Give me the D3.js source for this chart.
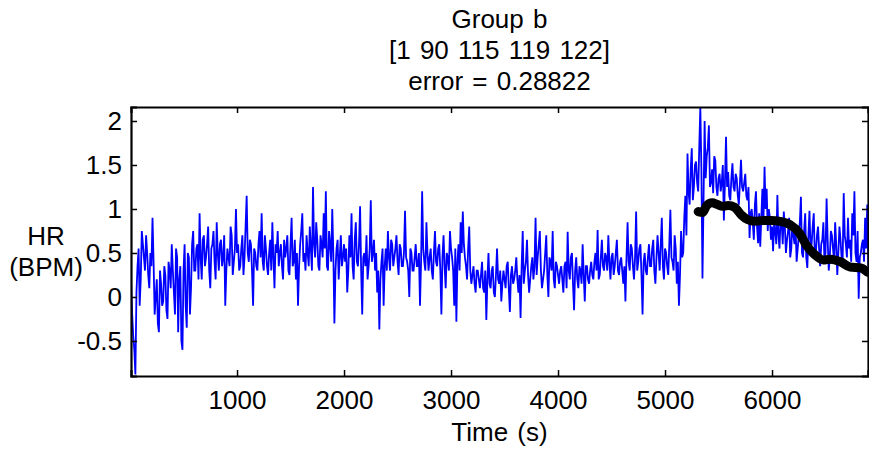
<!DOCTYPE html>
<html>
<head>
<meta charset="utf-8">
<script src="https://cdn.jsdelivr.net/npm/d3@7"></script>
<style>
  body { margin: 0; background: #fff; }
  svg text { font-family: "Liberation Sans", Arial, sans-serif; fill: #000; word-spacing: 2px; }
</style>
</head>
<body>
<div id="chart"></div>
<script>
// HR signal, read in two interleaved passes: samples at t = 10, 30, 50 ... and t = 20, 40, 60 ...
const sampleStep = 20;
const startA = 10;
const hrValuesA = [
  // 0 - 1000 s
  0.15, -0.45, -0.88, 0.35, -0.1, 0.75, 0.45, 0.7, 0.25, 0.5,
  0.9, -0.2, 0.2, -0.4, 0.15, -0.05, 0.25, -0.25, 0.3, 0.6,
  0.05, 0.55, -0.4, 0.35, -0.6, 0.6, -0.35, 0.45, 0.1, 0.75,
  0.3, 0.6, 0.95, 0.2, 0.7, 0.45, 0.8, 0.1, 0.6, 0.4,
  0.85, 0.3, 0.65, 0.45, -0.1, 0.55, 0.35, 0.7, 0.4, 1.0,
  // 1000 - 2000 s
  0.6, 0.35, 0.7, 0.45, 1.15, 0.4, 0.6, -0.1, 0.5, 0.3,
  0.75, 0.95, 0.3, 0.55, 0.25, 0.65, 0.85, 0.1, 0.5, 0.35,
  0.6, 0.2, 0.45, 0.7, 0.25, 0.9, 0.4, 0.2, -0.1, 0.6,
  0.95, 0.5, 0.7, 0.35, 0.55, 1.25, 0.45, 0.65, 0.3, 0.6,
  0.95, 1.2, 0.3, 0.6, 1.0, -0.3, 0.55, 0.2, 0.7, 0.45,
  // 2000 - 3000 s
  0.4, 0.05, 0.7, 0.95, 0.2, 0.85, 0.35, 1.03, -0.2, 0.5,
  0.7, 0.35, 1.1, 0.5, 0.3, 0.05, -0.37, 0.4, -0.1, 0.55,
  0.75, 0.3, 0.6, 0.45, 0.7, 0.25, 0.55, 0.35, 0.98, 0.4,
  0.0, 0.5, 0.3, 0.6, 0.35, -0.1, 1.2, 0.4, 0.85, 0.3,
  0.55, 0.2, 0.75, 0.35, 0.6, -0.2, 0.7, 0.1, 0.45, 0.75,
  // 3000 - 4000 s
  0.45, -0.1, -0.28, 0.6, 0.85, 0.97, 0.45, 0.2, 0.8, 0.15,
  0.35, 0.05, 0.3, 0.1, 0.4, 0.05, -0.26, 0.5, 0.1, 0.35,
  0.0, 0.55, 0.15, -0.05, 0.3, 0.1, 0.4, -0.17, 0.35, 0.2,
  0.45, 0.05, -0.24, 0.75, 0.3, 0.65, 0.05, 0.35, 0.2, 0.9,
  0.45, 0.75, 0.1, 0.3, 0.7, 0.0, 0.4, 0.75, 0.1, 0.35,
  // 4000 - 5000 s
  0.15, 0.35, 0.05, 0.4, 0.74, 0.2, 0.5, -0.15, 0.45, 0.1,
  0.3, 0.6, -0.05, 0.35, 0.15, 0.4, 0.2, 0.5, 0.76, 0.25,
  0.65, 0.3, 0.45, 0.7, 0.2, 0.5, 0.35, 0.65, 0.25, 0.45,
  0.15, -0.05, 0.85, 0.3, 0.55, 0.2, 0.97, 0.4, 0.6, -0.2,
  0.5, 0.25, 0.6, 0.35, 0.65, 0.15, 0.7, 0.3, 0.9, 0.2,
  // 5000 - 6000 s
  0.5, 0.25, 0.99, 0.4, 0.7, 0.15, -0.1, 0.75, 0.5, 1.15,
  1.63, 1.05, 1.69, 1.25, 1.54, 1.2, 2.16, 0.21, 2.0, 1.6,
  1.95, 1.3, 1.18, 1.55, 1.15, 1.4, 1.29, 0.87, 1.82, 1.42,
  1.1, 1.52, 1.2, 1.35, 1.05, 1.56, 1.2, 1.4, 1.1, 0.67,
  1.0, 0.65, 1.2, 0.61, 0.57, 1.23, 1.48, 1.23, 1.0, 0.65,
  // 6000 - 6900 s
  0.52, 0.75, 1.16, 0.55, 0.85, 0.97, 0.5, 0.75, 0.45, 0.85,
  0.6, 0.4, 0.7, 1.14, 0.45, 0.95, 0.33, 0.98, 0.6, 0.95,
  0.5, 0.8, 0.35, 0.65, 0.4, 1.12, 0.3, 0.75, 0.55, 0.85,
  0.25, 0.8, 0.45, 1.18, 0.6, 0.9, 0.65, 0.95, 1.2, 0.4,
  -0.02, 0.5, 0.65, 0.9, 1.05
];
const startB = 20;
const hrValuesB = [
  // 0 - 1000 s
  -0.2, -0.6, 0.05, 0.55, 0.2, 0.6, 0.3, 0.5, 0.1, 0.35,
  0.4, 0.0, -0.3, 0.3, -0.1, 0.35, -0.15, 0.4, 0.1, 0.3,
  -0.2, 0.45, 0.2, -0.5, 0.3, -0.1, 0.5, -0.2, 0.6, 0.3,
  0.55, 0.2, 0.45, 0.65, 0.35, 0.6, 0.3, 0.55, 0.75, 0.2,
  0.5, 0.6, 0.35, 0.7, 0.3, 0.45, 0.8, 0.25, 0.55, 0.5,
  // 1000 - 2000 s
  0.3, 0.55, 0.25, 0.8, 0.5, 0.65, 0.3, 0.55, 0.35, 0.6,
  0.45, 0.4, 0.7, 0.35, 0.5, 0.3, 0.45, 0.6, 0.75, 0.5,
  0.35, 0.65, 0.55, 0.3, 0.6, 0.35, 0.65, 0.5, 0.35, 0.75,
  0.4, 0.3, 0.5, 0.8, 0.3, 0.6, 0.85, 0.35, 0.7, 0.45,
  0.55, 0.35, 0.75, 0.4, 0.5, 0.3, 0.65, 0.45, 0.35, 0.6,
  // 2000 - 3000 s
  0.55, 0.3, 0.45, 0.35, 0.65, 0.4, 0.6, 0.3, 0.45, 0.35,
  0.2, 0.55, 0.4, 0.65, 0.5, 0.3, 0.2, 0.55, 0.35, 0.3,
  0.45, 0.65, 0.35, 0.55, 0.4, 0.6, 0.35, 0.5, 0.45, 0.3,
  0.55, 0.3, 0.45, 0.35, 0.5, 0.4, 0.55, 0.3, 0.5, 0.45,
  0.3, 0.5, 0.4, 0.55, 0.3, 0.45, 0.35, 0.5, 0.3, 0.55,
  // 3000 - 4000 s
  0.3, 0.55, 0.4, 0.3, 0.5, 0.6, 0.35, 0.55, 0.3, 0.25,
  0.15, 0.3, 0.2, 0.25, 0.1, 0.3, 0.2, 0.15, 0.3, 0.05,
  0.25, 0.2, 0.3, 0.15, 0.2, 0.35, 0.1, 0.25, 0.15, 0.3,
  0.2, 0.25, 0.35, 0.15, 0.4, 0.25, 0.2, 0.45, 0.35, 0.25,
  0.6, 0.3, 0.2, 0.5, 0.25, 0.45, 0.3, 0.2, 0.4, 0.25,
  // 4000 - 5000 s
  0.3, 0.2, 0.35, 0.1, 0.3, 0.45, 0.15, 0.3, 0.2, 0.35,
  0.15, 0.25, 0.35, 0.2, 0.3, 0.25, 0.4, 0.3, 0.2, 0.45,
  0.35, 0.5, 0.3, 0.4, 0.45, 0.25, 0.5, 0.3, 0.4, 0.3,
  0.35, 0.45, 0.4, 0.6, 0.35, 0.45, 0.3, 0.55, 0.25, 0.4,
  0.3, 0.45, 0.35, 0.55, 0.3, 0.45, 0.5, 0.6, 0.35, 0.55,
  // 5000 - 6000 s
  0.35, 0.6, 0.45, 0.3, 0.55, 0.4, 0.25, 0.45, 0.9, 0.7,
  1.2, 1.45, 1.1, 1.5, 1.3, 1.7, 1.45, 1.1, 1.35, 1.7,
  1.25, 1.45, 1.6, 1.25, 1.35, 1.2, 1.5, 1.3, 1.25, 1.15,
  1.35, 1.25, 1.4, 1.15, 1.3, 1.25, 1.3, 1.15, 1.25, 0.95,
  0.85, 1.05, 0.8, 0.95, 0.9, 0.85, 1.0, 0.75, 0.9, 0.8,
  // 6000 - 6900 s
  0.85, 0.6, 0.7, 0.9, 0.6, 0.8, 0.65, 0.9, 0.55, 0.7,
  0.8, 0.55, 0.85, 0.5, 0.75, 0.45, 0.7, 0.55, 0.8, 0.45,
  0.7, 0.55, 0.6, 0.85, 0.5, 0.65, 0.45, 0.7, 0.4, 0.6,
  0.5, 0.65, 0.4, 0.7, 0.45, 0.55, 0.4, 0.7, 0.5, 0.75,
  0.45, 0.6, 0.4, 0.55, 0.35
];

// fitted model (thick black trace)
const fitTimes = [5310, 5350, 5390, 5440, 5490, 5540, 5590, 5650, 5715, 5770, 5840,
  5920, 5990, 6075, 6170, 6260, 6320, 6400, 6480, 6540, 6640, 6730, 6830, 6895];
const fitValues = [0.97, 0.96, 1.04, 1.07, 1.05, 1.03, 1.04, 1.02, 0.93, 0.88, 0.86,
  0.87, 0.87, 0.86, 0.82, 0.72, 0.59, 0.48, 0.42, 0.43, 0.4, 0.34, 0.33, 0.28];

const xTicks = [1000, 2000, 3000, 4000, 5000, 6000];
const yTicks = [-0.5, 0, 0.5, 1, 1.5, 2];
const titleLines = ['Group b', '[1 90 115 119 122]', 'error = 0.28822'];

const width = 869, height = 449;
const margin = {top: 107, right: 1, bottom: 73, left: 131};
const fontSize = 26;

const svg = d3.select('#chart').append('svg')
  .attr('width', width)
  .attr('height', height);

const x = d3.scaleLinear().domain([9, 6897]).range([margin.left, width - margin.right]);
const y = d3.scaleLinear().domain([-0.898, 2.159]).range([height - margin.bottom, margin.top]);

svg.append('defs').append('clipPath').attr('id', 'plot-clip')
  .append('rect')
  .attr('x', x.range()[0]).attr('y', y.range()[1])
  .attr('width', x.range()[1] - x.range()[0])
  .attr('height', y.range()[0] - y.range()[1]);

const hrPoints = hrValuesA.map((v, i) => [startA + i * sampleStep, v])
  .concat(hrValuesB.map((v, i) => [startB + i * sampleStep, v]))
  .sort((a, b) => a[0] - b[0]);
const fitPoints = fitTimes.map((t, i) => [t, fitValues[i]]);

const line = d3.line().x(d => x(d[0])).y(d => y(d[1]));

const plot = svg.append('g').attr('clip-path', 'url(#plot-clip)');

plot.append('path')
  .datum(hrPoints)
  .attr('fill', 'none')
  .attr('stroke', '#0000ff')
  .attr('stroke-width', 1.8)
  .attr('d', line);

plot.append('path')
  .datum(fitPoints)
  .attr('fill', 'none')
  .attr('stroke', '#000')
  .attr('stroke-width', 9)
  .attr('stroke-linecap', 'round')
  .attr('stroke-linejoin', 'round')
  .attr('d', line.curve(d3.curveMonotoneX));

// axes: MATLAB-style inward ticks on all four sides
const bottomAxis = svg.append('g')
  .attr('transform', `translate(0,${y.range()[0]})`)
  .call(d3.axisBottom(x).tickValues(xTicks).tickSize(-6).tickPadding(15).tickFormat(d3.format('d')));
const topAxis = svg.append('g')
  .attr('transform', `translate(0,${y.range()[1]})`)
  .call(d3.axisTop(x).tickValues(xTicks).tickSize(-6).tickFormat(''));
const leftAxis = svg.append('g')
  .attr('transform', `translate(${x.range()[0]},0)`)
  .call(d3.axisLeft(y).tickValues(yTicks).tickSize(-6).tickPadding(9).tickFormat(d => String(d)));
const rightAxis = svg.append('g')
  .attr('transform', `translate(${x.range()[1]},0)`)
  .call(d3.axisRight(y).tickValues(yTicks).tickSize(-6).tickFormat(''));

[bottomAxis, topAxis, leftAxis, rightAxis].forEach(g => {
  g.select('.domain').attr('stroke', '#000').attr('stroke-width', 2.2);
  g.selectAll('.tick line').attr('stroke', '#000').attr('stroke-width', 1.5);
  g.selectAll('.tick text').attr('font-size', fontSize)
    .style('font-family', '"Liberation Sans", Arial, sans-serif');
});

// title
const cx = (x.range()[0] + x.range()[1]) / 2;
svg.append('g').selectAll('text')
  .data(titleLines)
  .join('text')
  .attr('x', cx)
  .attr('y', (d, i) => 28 + i * 31)
  .attr('text-anchor', 'middle')
  .attr('font-size', fontSize)
  .text(d => d);

// axis labels
svg.append('text')
  .attr('x', cx)
  .attr('y', 441)
  .attr('text-anchor', 'middle')
  .attr('font-size', fontSize)
  .text('Time (s)');

svg.append('g').selectAll('text')
  .data(['HR', '(BPM)'])
  .join('text')
  .attr('x', 46)
  .attr('y', (d, i) => 245 + i * 31)
  .attr('text-anchor', 'middle')
  .attr('font-size', fontSize)
  .text(d => d);
</script>
</body>
</html>
